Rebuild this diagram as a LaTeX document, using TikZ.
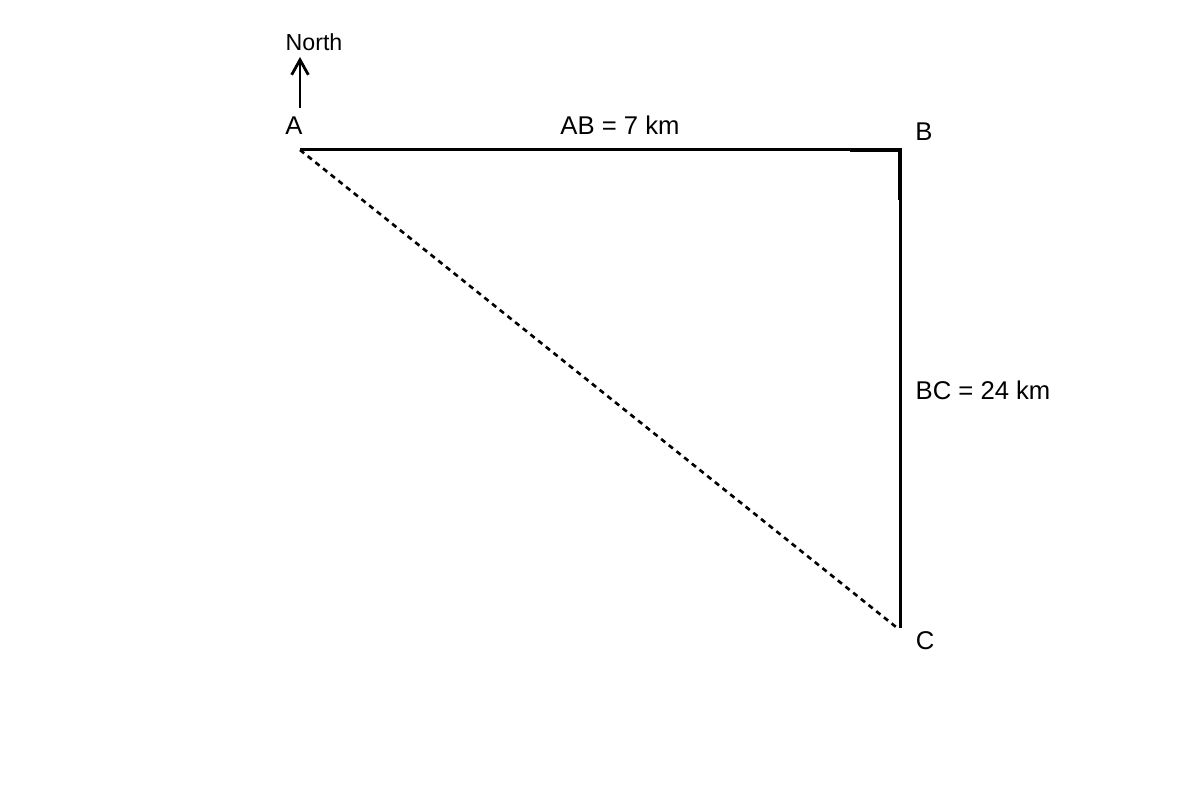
\documentclass[tikz,border=0pt]{standalone}
\usepackage{fontspec}
\setmainfont{Liberation Sans}
\usepackage{tikz}
\usetikzlibrary{arrows.meta}
\tikzset{>={Straight Barb[length=8.5pt,width=9.5pt]}}
\tikzset{side/.style={line width=1.72pt}}
\tikzset{lbl/.style={anchor=base, inner sep=0pt, font=\fontsize{14.6}{16}\selectfont}}

\begin{document}
\begin{tikzpicture}
	\useasboundingbox (0,0) rectangle (24,16);
	\coordinate (A) at (6,13);
	\coordinate (B) at (18,13);
	\coordinate (C) at (18,3.44);
	\coordinate (Cend) at (17.92,3.46);
	\coordinate (Nfoot) at (6,13.84);
	\coordinate (Ntip) at (6,14.86);

	\draw[side] (A) -- (B) -- (C); % the two legs
	\draw[line width=2.0pt] ([xshift=-1cm]B) -- (B) -- ([yshift=-1cm]B); % right angle
	\draw[line width=1.5pt, dash pattern=on 3pt off 2.6pt] (A) -- (Cend); % AC
	\draw[->, line width=1.6pt] (Nfoot) -- (Ntip);

	\node[lbl] (labA) at (5.88,13.3) {A};
	\node[lbl] (labB) at (18.48,13.18) {B};
	\node[lbl] (labC) at (18.5,3.0) {C};
	\node[lbl] (labAB) at (12.4,13.3) {AB = 7 km};
	\node[lbl] (labBC) at (19.66,8.0) {BC = 24 km};
	\node[lbl, font=\fontsize{13.2}{15}\selectfont] (labN) at (6.28,14.98) {North};
\end{tikzpicture}
\end{document}
